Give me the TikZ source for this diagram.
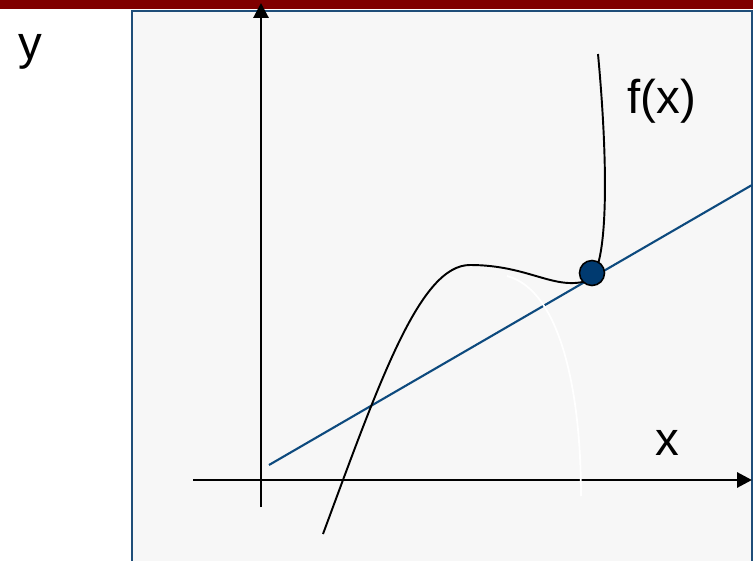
\documentclass[tikz,border=0pt]{standalone}
\usepackage{fontspec}
\setmainfont{Liberation Sans}
\usetikzlibrary{arrows.meta}

\definecolor{barred}{HTML}{800000}
\definecolor{panelgray}{HTML}{F7F7F7}
\definecolor{frameblue}{HTML}{1F4E79}
\definecolor{lineblue}{HTML}{0D4A7E}
\definecolor{dotblue}{HTML}{003A70}

\begin{document}
\begin{tikzpicture}[
    x=0.02cm, y=-0.02cm,
    axis/.style={-{Triangle[length=3mm, width=3mm]}, line width=1.7pt},
    tangent/.style={lineblue, line width=1.2pt},
    curve/.style={black, line width=1.1pt},
    lbl/.style={font=\fontsize{27}{31}\selectfont, inner sep=0pt},
    hitdot/.style={circle, draw=black, line width=0.9pt, fill=dotblue, minimum size=0.5cm, inner sep=0pt}
]
\useasboundingbox (0,0) rectangle (755,561);
\clip (0,0) rectangle (755,561);

% header bar and panel
\fill[barred] (0,0) rectangle (753,9);
\draw[frameblue, line width=0.9pt, fill=panelgray] (132,11) rectangle (752,580);

% axes
\coordinate (yfoot) at (261,507);
\coordinate (ytip) at (261,3);
\coordinate (xfoot) at (193,480);
\coordinate (xtip) at (752,480);
\draw[axis] (yfoot) -- (ytip);
\draw[axis] (xfoot) -- (xtip);

% tangent line
\coordinate (lstart) at (269,465);
\coordinate (lend) at (752,185);
\draw[tangent] (lstart) -- (lend);

% f(x)
\coordinate (fstart) at (323,534);
\coordinate (fpeak) at (470,265);
\coordinate (ftop) at (598,54);
\draw[curve] (fstart) .. controls (380,380) and (420,265) .. (fpeak)
    .. controls (530,265) and (555,292) .. (590,280)
    .. controls (610,262) and (607,150) .. (ftop);

% white arc
\coordinate (wstart) at (507,276);
\coordinate (wend) at (581,496);
\draw[white, line width=1pt] (wstart) .. controls (560,290) and (581,390) .. (wend);

\node[hitdot] (hit) at (592,273) {};

% labels
\node[lbl] (ylab) at (30,52) {y};
\node[lbl] (xlab) at (667,443) {x};
\node[lbl] (flab) at (662,101) {f(x)};
\end{tikzpicture}
\end{document}
